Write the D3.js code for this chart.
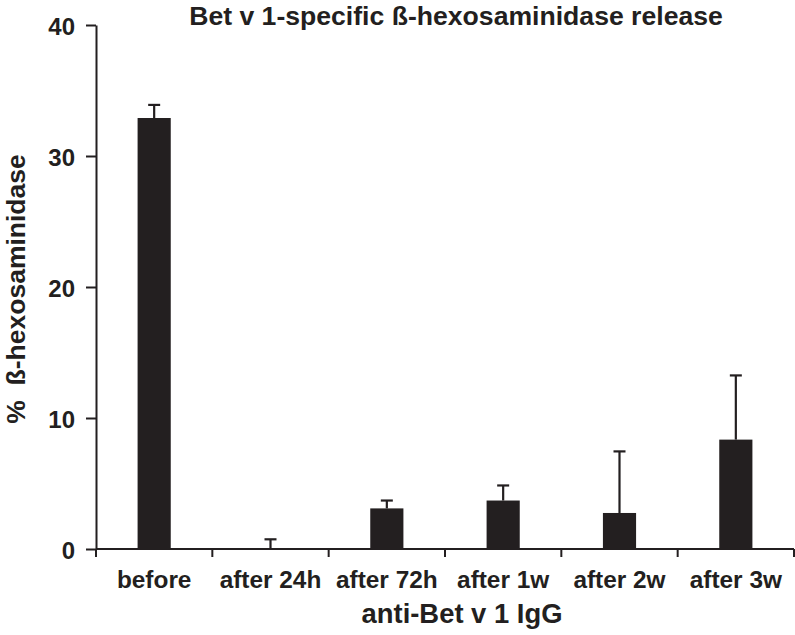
<!DOCTYPE html>
<html><head><meta charset="utf-8">
<script src="https://cdn.jsdelivr.net/npm/d3@7"></script>
<style>
html,body{margin:0;padding:0;background:#fff;}
svg{display:block;font-family:"Liberation Sans",Arial,Helvetica,sans-serif;font-weight:bold;}
</style></head><body>
<svg id="chart" width="795" height="635"></svg>
<script>
const categories = ["before","after 24h","after 72h","after 1w","after 2w","after 3w"];
const values = [32.9, 0, 3.1, 3.7, 2.75, 8.35];
const errors = [1.0, 0.74, 0.6, 1.15, 4.7, 4.9];
const yTicks = [0,10,20,30,40];
const titleText = "Bet v 1-specific ß-hexosaminidase release";
const xTitle = "anti-Bet v 1 IgG";
const yTitle = "%\u00a0\u00a0ß-hexosaminidase";

(function(){
const ink = "#231f20";
const svg = d3.select("#chart");
const mLeft = 96, mRight = 794, mTop = 25, mBottom = 549;

const x = d3.scaleBand().domain(categories).range([mLeft,mRight]).paddingInner(0).paddingOuter(0);
const y = d3.scaleLinear().domain([0,40]).range([mBottom,mTop]);
const barW = x.bandwidth()*0.285;

// bars
svg.append("g").selectAll("rect").data(categories).join("rect")
  .attr("x", d => x(d) + x.bandwidth()/2 - barW/2)
  .attr("y", (d,i) => y(values[i]))
  .attr("width", barW)
  .attr("height", (d,i) => y(0) - y(values[i]))
  .attr("fill", ink);

// error bars (upper only)
const eg = svg.append("g").attr("stroke", ink).attr("stroke-width", 2.2);
categories.forEach((c,i) => {
  const cx = x(c) + x.bandwidth()/2;
  eg.append("line").attr("x1",cx).attr("x2",cx).attr("y1",y(values[i])).attr("y2",y(values[i]+errors[i]));
  eg.append("line").attr("x1",cx-6).attr("x2",cx+6).attr("y1",y(values[i]+errors[i])).attr("y2",y(values[i]+errors[i]));
});

// y axis
const yAxis = svg.append("g").attr("transform",`translate(${mLeft},0)`)
  .call(d3.axisLeft(y).tickValues(yTicks).tickSize(10).tickSizeOuter(0).tickPadding(11));
yAxis.select(".domain").attr("stroke",ink).attr("stroke-width",2);
yAxis.selectAll(".tick line").attr("stroke",ink).attr("stroke-width",2);
yAxis.selectAll(".tick text").attr("fill",ink).style("font-size","24px").style("font-weight","bold")
  .style("font-family","'Liberation Sans',Arial,sans-serif").attr("dy","0.4em");

// x axis (ticks at band boundaries)
const xg = svg.append("g").attr("transform",`translate(0,${mBottom})`);
xg.append("line").attr("x1",mLeft).attr("x2",mRight).attr("y1",0).attr("y2",0).attr("stroke",ink).attr("stroke-width",2);
const bounds = categories.map(c => x(c)).concat([x(categories[categories.length-1]) + x.bandwidth()]);
xg.selectAll("line.t").data(bounds).join("line").attr("class","t")
  .attr("x1",d=>d).attr("x2",d=>d).attr("y1",0).attr("y2",8).attr("stroke",ink).attr("stroke-width",2);
xg.selectAll("text").data(categories).join("text")
  .attr("x", d => x(d)+x.bandwidth()/2).attr("y", 39)
  .attr("text-anchor","middle").attr("fill",ink).style("font-size","24.4px").text(d=>d);

// titles
svg.append("text").attr("x",456).attr("y",25).attr("text-anchor","middle").attr("fill",ink)
  .style("font-size","26.6px").text(titleText);
svg.append("text").attr("x",462).attr("y",623).attr("text-anchor","middle").attr("fill",ink)
  .style("font-size","27.4px").text(xTitle);
svg.append("text").attr("transform","translate(25,289) rotate(-90)").attr("text-anchor","middle").attr("fill",ink)
  .style("font-size","26.5px").text(yTitle);
})();
</script>
</body></html>
